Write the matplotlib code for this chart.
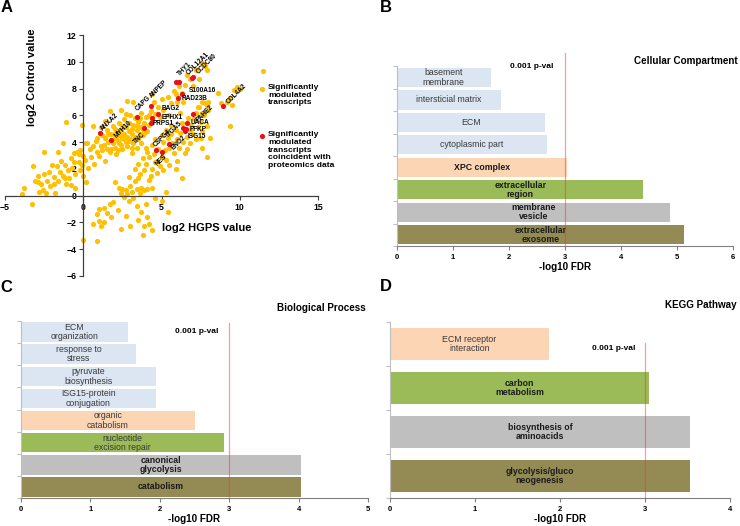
import numpy as np
import matplotlib
matplotlib.use('Agg')
import matplotlib.pyplot as plt
from matplotlib.transforms import blended_transform_factory

plt.rcParams['font.family'] = ['Liberation Sans', 'DejaVu Sans']

# ---------------- A: significantly modulated transcripts (log2 HGPS vs log2 Control)
# left tail
left_hgps = [-3.9, -3.8, -3.3, -3.2, -3.1, -2.9, -2.8, -2.7, -2.6, -2.5,
             -2.5, -2.3, -2.2, -2.1, -2.0, -1.9, -1.8, -1.7, -1.6, -1.6,
             -1.5, -1.4, -1.3, -1.3, -1.2, -1.1, -1.1, -1.0, -0.9, -0.8,
             -0.7, -0.6, -0.5, -0.5, -0.4, -0.3, -0.3, -0.2, -0.2, -0.1,
             -0.1, 0.0, 0.0, -2.9, -2.4, -1.9, -1.2, -0.8, -0.6, 0.25]
left_ctrl = [0.1, 0.6, -0.6, 2.2, 1.1, 1.5, 0.3, 0.9, 0.4, 1.6,
             3.3, 1.1, 1.8, 0.7, 2.3, 1.4, 0.2, 2.2, 3.3, 1.1,
             1.8, 2.6, 1.5, 3.9, 2.3, 5.5, 0.9, 1.9, 1.3, 2.8,
             2.1, 3.2, 0.6, 1.6, 3.3, 3.1, 2.5, 1.9, 3.4, 5.3,
             2.3, 3.0, 1.5, 1.0, 0.2, 0.9, 1.3, 0.8, 2.5, 3.9]
# upper band
upper_hgps = [0.1, 0.2, 0.2, 0.3, 0.4, 0.5, 0.6, 0.6, 0.7, 0.8,
              0.9, 1.0, 1.1, 1.2, 1.3, 1.4, 1.4, 1.5, 1.5, 1.6,
              1.7, 1.7, 1.8, 1.9, 1.9, 2.0, 2.0, 2.1, 2.1, 2.2,
              2.2, 2.3, 2.3, 2.4, 2.4, 2.4, 2.5, 2.5, 2.6, 2.6,
              2.7, 2.7, 2.8, 2.8, 2.8, 2.9, 2.9, 3.0, 3.0, 3.1,
              3.1, 3.2, 3.2, 3.2, 3.3, 3.3, 3.4, 3.5, 3.5, 3.6,
              3.7, 3.7, 3.8, 3.9, 4.0, 4.1, 4.2, 4.3, 4.4, 4.5,
              4.6, 4.4, 4.8, 4.9, 5.0, 1.6, 1.8, 2.0, 2.3, 2.6,
              2.9, 3.0, 3.4, 3.6, 3.8, 2.5, 2.1, 1.2, 0.9, 1.1,
              3.1, 3.9, 4.2, 2.7, 1.4]
upper_ctrl = [2.7, 3.9, 1.0, 2.1, 3.5, 2.9, 5.2, 3.7, 2.4, 4.1,
              3.3, 3.0, 3.7, 4.5, 3.8, 4.3, 2.6, 3.5, 4.9, 4.0,
              3.3, 6.3, 4.6, 3.9, 5.2, 4.3, 3.6, 4.8, 3.1, 4.1,
              3.4, 4.5, 5.4, 3.8, 4.9, 6.4, 4.3, 3.5, 4.6, 5.7,
              4.0, 5.1, 4.4, 3.7, 7.1, 4.8, 5.4, 4.2, 6.0, 4.6,
              5.0, 3.9, 5.3, 7.0, 4.4, 5.8, 4.9, 4.2, 5.5, 4.6,
              5.1, 6.2, 4.5, 5.4, 5.9, 4.8, 5.3, 6.3, 5.6, 7.0,
              6.1, 7.6, 6.6, 5.9, 7.2, 4.6, 3.5, 5.0, 3.9, 4.2,
              4.1, 4.8, 5.2, 5.8, 5.0, 5.2, 4.4, 3.4, 4.3, 5.1,
              3.6, 4.7, 6.0, 6.1, 5.6]
# upper extension / high values
high_hgps = [5.1, 5.4, 5.6, 5.8, 5.9, 6.0, 6.1, 6.3, 6.4, 6.5,
             6.6, 6.8, 7.0, 7.2, 7.4, 7.6, 7.9, 7.8, 7.3, 7.6,
             7.9, 7.6, 8.0, 8.6, 8.8, 9.2, 9.4, 9.6, 9.8, 9.5,
             9.4, 10.0, 11.5, 5.5, 6.2]
high_ctrl = [6.4, 7.4, 6.9, 7.8, 7.6, 7.0, 8.2, 7.7, 7.0, 8.3,
             9.0, 8.7, 8.2, 9.4, 8.7, 9.9, 9.4, 9.7, 6.6, 7.0,
             6.8, 6.2, 7.0, 7.7, 6.9, 7.0, 7.3, 7.9, 8.1, 6.8,
             5.2, 8.0, 9.3, 6.0, 6.2]
# lower band
lower_hgps = [3.3, 3.5, 3.6, 3.8, 3.9, 4.0, 4.1, 4.2, 4.3, 4.4,
              4.5, 4.6, 4.7, 4.8, 4.9, 5.0, 5.1, 5.2, 5.3, 5.4,
              5.5, 5.6, 5.7, 5.8, 5.9, 6.0, 6.0, 6.1, 6.2, 6.3,
              6.4, 6.5, 6.6, 6.7, 6.8, 6.9, 7.0, 7.1, 7.2, 7.3,
              7.4, 7.5, 7.6, 7.7, 7.8, 7.9, 8.0, 7.2, 7.5, 6.8,
              6.5, 6.3, 7.6, 7.9, 8.1, 3.1, 3.4, 3.7, 4.0, 4.4,
              4.6, 5.0, 5.3, 5.6, 4.2, 4.7, 5.1, 5.5, 5.9, 6.6]
lower_ctrl = [2.0, 2.4, 1.6, 2.8, 1.9, 2.4, 3.3, 2.9, 1.5, 2.0,
              3.1, 2.5, 2.6, 3.5, 2.2, 2.9, 4.0, 3.4, 2.7, 4.3,
              3.6, 4.6, 3.9, 3.2, 4.9, 4.2, 2.6, 3.6, 4.7, 5.4,
              4.0, 5.0, 4.4, 5.8, 4.9, 5.3, 4.6, 5.7, 6.2, 5.1,
              6.6, 5.5, 4.8, 6.0, 6.9, 5.2, 6.4, 4.2, 4.3, 3.9,
              3.2, 1.3, 3.6, 2.9, 4.3, 3.2, 3.6, 3.9, 3.6, 3.8,
              4.2, 4.5, 4.9, 5.3, 1.2, 1.7, 1.9, 2.3, 2.0, 3.5]
# low / negative values
low_hgps = [2.0, 2.3, 2.4, 2.5, 2.6, 2.7, 2.8, 2.9, 3.0, 3.1,
            3.2, 3.3, 3.4, 3.6, 3.7, 3.9, 4.1, 4.4, 2.9, 3.5,
            1.7, 1.9, 1.0, 1.3, 1.5, 0.9, 1.0, 1.3, 1.1, 0.6,
            0.0, 0.9, 2.4, 3.0, 3.8, 3.4, 3.7, 4.0, 3.5, 4.1,
            4.2, 3.9, 5.4, 5.3, 4.6, 5.0, 2.2, 2.7, 1.8, 4.4]
low_ctrl = [1.0, 0.6, 0.2, 0.5, -0.1, 0.4, 0.1, -0.4, 0.7, 0.3,
            -0.2, 1.1, 0.5, 0.2, 0.6, 0.4, 0.5, 0.6, 1.4, 1.3,
            -0.6, -0.5, -1.0, -0.9, -1.3, -1.4, -1.9, -2.0, -2.3, -2.1,
            -3.3, -3.4, -2.5, -2.3, -2.9, -0.8, -1.2, -0.6, -1.8, -1.6,
            -2.1, -2.3, -1.2, 0.3, -0.2, -0.4, -1.1, -1.5, -1.6, -2.6]

# transcripts coincident with proteomics data
prot_genes = ['ANXA2', 'MYH10', 'CAPG', 'ANPEP', 'THY1', '', 'COL12A1', 'CCDC80',
              'S100A16', 'RAD23B', 'BAG2', 'EPHX1', 'PRPS1', 'TNC', 'ITGA5', 'PAHE2',
              'UACA', 'PFKP', 'ISG15', 'CSPG4', 'ENO2', 'NES', 'COL4A2']
prot_hgps = [1.04, 1.78, 3.45, 4.30, 5.90, 6.12, 6.95, 7.00,
             6.30, 6.08, 4.76, 4.42, 4.31, 3.90, 6.39, 7.03,
             6.60, 6.55, 6.50, 4.63, 5.50, 5.01, 8.92]
prot_ctrl = [4.68, 4.18, 5.90, 6.72, 8.53, 8.53, 8.80, 8.85,
             7.60, 7.30, 6.12, 5.80, 5.43, 5.05, 5.05, 6.10,
             5.45, 5.00, 4.85, 3.38, 3.88, 3.26, 6.70]

# gene label placement: rotation, ha, va, dx px, dy px
label_style = {
    'ANXA2': (45, 'left', 'bottom', 0, 1), 'MYH10': (45, 'left', 'bottom', 2, 0),
    'CAPG': (45, 'left', 'bottom', -3, 4), 'ANPEP': (45, 'left', 'bottom', -2, 6),
    'THY1': (45, 'left', 'bottom', 1, 4), 'COL12A1': (45, 'left', 'bottom', -7, 1),
    'CCDC80': (45, 'left', 'bottom', 2, 2), 'S100A16': (0, 'left', 'center', 7, 3),
    'RAD23B': (0, 'left', 'center', 3, -1), 'BAG2': (0, 'left', 'center', 3.5, 5),
    'EPHX1': (0, 'left', 'center', 9, 1), 'PRPS1': (0, 'left', 'center', 2, 0),
    'TNC': (45, 'right', 'top', 2.4, -3.4), 'ITGA5': (45, 'right', 'top', 0, 8),
    'PAHE2': (45, 'left', 'bottom', 2, -9), 'UACA': (0, 'left', 'center', 4.5, 0),
    'PFKP': (0, 'left', 'center', 4, -1), 'ISG15': (0, 'left', 'center', 3, -6),
    'CSPG4': (45, 'left', 'bottom', -4, 2), 'ENO2': (45, 'left', 'bottom', 0.6, -8),
    'NES': (45, 'center', 'top', 0, -1), 'COL4A2': (45, 'left', 'bottom', 2, 1),
}

# ---------------- B: cellular compartment
cc_terms = ['basement\nmembrane', 'intersticial matrix', 'ECM', 'cytoplasmic part',
            'XPC complex', 'extracellular\nregion', 'membrane\nvesicle', 'extracellular\nexosome']
cc_fdr = [1.67, 1.85, 2.65, 2.67, 3.04, 4.40, 4.87, 5.13]

# ---------------- C: biological process
bp_terms = ['ECM\norganization', 'response to\nstress', 'pyruvate\nbiosynthesis',
            'ISG15-protein\nconjugation', 'organic\ncatabolism', 'nucleotide\nexcision repair',
            'canonical\nglycolysis', 'catabolism']
bp_fdr = [1.54, 1.66, 1.94, 1.94, 2.50, 2.92, 4.03, 4.03]

# ---------------- D: KEGG pathway
kegg_terms = ['ECM receptor\ninteraction', 'carbon\nmetabolism', 'biosynthesis of\naminoacids',
              'glycolysis/gluco\nneogenesis']
kegg_fdr = [1.87, 3.05, 3.53, 3.53]

YELLOW = '#ffc000'
RED = '#e8101b'
BLUE = '#dce6f2'
PEACH = '#fcd5b5'
GREEN = '#9bbb59'
GREY = '#bfbfbf'
OLIVE = '#948a54'

fig = plt.figure(figsize=(7.4, 5.26), dpi=100)

# ---- panel A
axA = fig.add_axes([0.0068, 0.4753, 0.423, 0.458])
all_hgps = left_hgps + upper_hgps + high_hgps + lower_hgps + low_hgps
all_ctrl = left_ctrl + upper_ctrl + high_ctrl + lower_ctrl + low_ctrl
axA.scatter(all_hgps, all_ctrl, s=14, c=YELLOW, linewidths=0, zorder=2)
axA.scatter(prot_hgps, prot_ctrl, s=14, c=RED, linewidths=0, zorder=3)
for g, x, y in zip(prot_genes, prot_hgps, prot_ctrl):
    if not g:
        continue
    rot, ha, va, dx, dy = label_style[g]
    axA.annotate(g, (x, y), xytext=(dx * 0.72, dy * 0.72), textcoords='offset points',
                 rotation=rot, ha=ha, va=va, fontsize=4.7, fontweight='bold', zorder=4)

axA.set_xlim(-5, 15)
axA.set_ylim(-6, 12)
axA.spines['left'].set_position(('data', 0))
axA.spines['bottom'].set_position(('data', 0))
axA.spines['top'].set_visible(False)
axA.spines['right'].set_visible(False)
for s in ['left', 'bottom']:
    axA.spines[s].set_color('#404040')
    axA.spines[s].set_linewidth(0.9)
axA.set_xticks([-5, 0, 5, 10, 15])
axA.set_yticks(range(-6, 13, 2))
axA.tick_params(length=3, width=0.8, color='#404040', labelsize=6.3, pad=2)
for lbl in axA.get_xticklabels() + axA.get_yticklabels():
    lbl.set_fontweight('bold')
axA.patch.set_visible(False)
axA.text(0.086, 0.826, 'log2 Control value', transform=axA.transAxes, rotation=90,
         ha='center', va='center', fontsize=8, fontweight='bold')
axA.text(0.645, 0.199, 'log2 HGPS value', transform=axA.transAxes,
         ha='center', va='center', fontsize=8, fontweight='bold')

# legend keys
axA.scatter([0.821], [0.777], s=14, c=YELLOW, linewidths=0, transform=axA.transAxes, clip_on=False)
axA.scatter([0.821], [0.581], s=14, c=RED, linewidths=0, transform=axA.transAxes, clip_on=False)
axA.text(0.840, 0.797, 'Significantly\nmodulated\ntranscripts', transform=axA.transAxes,
         ha='left', va='top', fontsize=6.1, fontweight='bold', linespacing=1.15)
axA.text(0.840, 0.601, 'Significantly\nmodulated\ntranscripts\ncoincident with\nproteomics data',
         transform=axA.transAxes, ha='left', va='top', fontsize=6.1, fontweight='bold',
         linespacing=1.15)


def bar_panel(rect, terms, vals, colors, bold, xmax, bar_h, line_top, pval_xy,
              title, title_xy, xlab_y):
    ax = fig.add_axes(rect)
    n = len(terms)
    y = np.arange(n)
    ax.barh(y, vals, height=bar_h, color=colors, zorder=1)
    ax.set_ylim(n - 0.5, -0.5)
    ax.set_xlim(0, xmax)
    for yi, v, t, b in zip(y, vals, terms, bold):
        ax.text(v / 2, yi, t, ha='center', va='center', fontsize=6.3,
                fontweight='bold' if b else 'normal',
                color='#1a1a1a' if b else '#3a3a3a', linespacing=1.05, zorder=3)
    ax.axvline(3, ymin=0, ymax=line_top, color='#ff3333', lw=0.9, ls=(0, (0.8, 0.8)),
               clip_on=False, zorder=4)
    trans = blended_transform_factory(ax.transData, ax.transAxes)
    ax.text(pval_xy[0], pval_xy[1], '0.001 p-val', transform=trans, ha='center',
            va='center', fontsize=6, fontweight='bold')
    ax.text(title_xy[0], title_xy[1], title, transform=ax.transAxes, ha='right',
            va='center', fontsize=7.1, fontweight='bold')
    ax.set_yticks([])
    ax.set_yticks(np.arange(n + 1) - 0.5, minor=True)
    ax.tick_params(axis='y', which='minor', length=3, width=0.8, color='#bfbfbf')
    ax.set_xticks(range(xmax + 1))
    ax.tick_params(axis='x', length=3, width=0.8, color='#808080', labelsize=5.5, pad=3)
    for lbl in ax.get_xticklabels():
        lbl.set_fontweight('bold')
    ax.spines['top'].set_visible(False)
    ax.spines['right'].set_visible(False)
    ax.spines['left'].set_color('#bfbfbf')
    ax.spines['left'].set_linewidth(0.8)
    ax.spines['bottom'].set_color('#808080')
    ax.spines['bottom'].set_linewidth(0.8)
    ax.set_xlabel('-log10 FDR', fontsize=7.1, fontweight='bold')
    ax.xaxis.set_label_coords(0.5, xlab_y)
    return ax


bar_panel([0.5365, 0.5323, 0.454, 0.342], cc_terms, cc_fdr,
          [BLUE, BLUE, BLUE, BLUE, PEACH, GREEN, GREY, OLIVE],
          [False, False, False, False, True, True, True, True],
          6, 0.86, 1.072, (2.4, 1.0), 'Cellular Compartment', (1.015, 1.028), -0.089)

bar_panel([0.0284, 0.0532, 0.469, 0.3365], bp_terms, bp_fdr,
          [BLUE, BLUE, BLUE, BLUE, PEACH, GREEN, GREY, OLIVE],
          [False, False, False, False, False, False, True, True],
          5, 0.88, 0.99, (2.53, 0.938), 'Biological Process', (0.994, 1.073), -0.09)

bar_panel([0.527, 0.0532, 0.4595, 0.3346], kegg_terms, kegg_fdr,
          [PEACH, GREEN, GREY, OLIVE],
          [False, True, True, True],
          4, 0.71, 0.88, (2.63, 0.847), 'KEGG Pathway', (1.02, 1.097), -0.09)

# panel letters
for x, y, letter in [(0.001, 0.985, 'A'), (0.514, 0.985, 'B'), (0.001, 0.453, 'C'), (0.514, 0.455, 'D')]:
    fig.text(x, y, letter, ha='left', va='center', fontsize=12, fontweight='bold')

fig.savefig('out.png', dpi=100)
